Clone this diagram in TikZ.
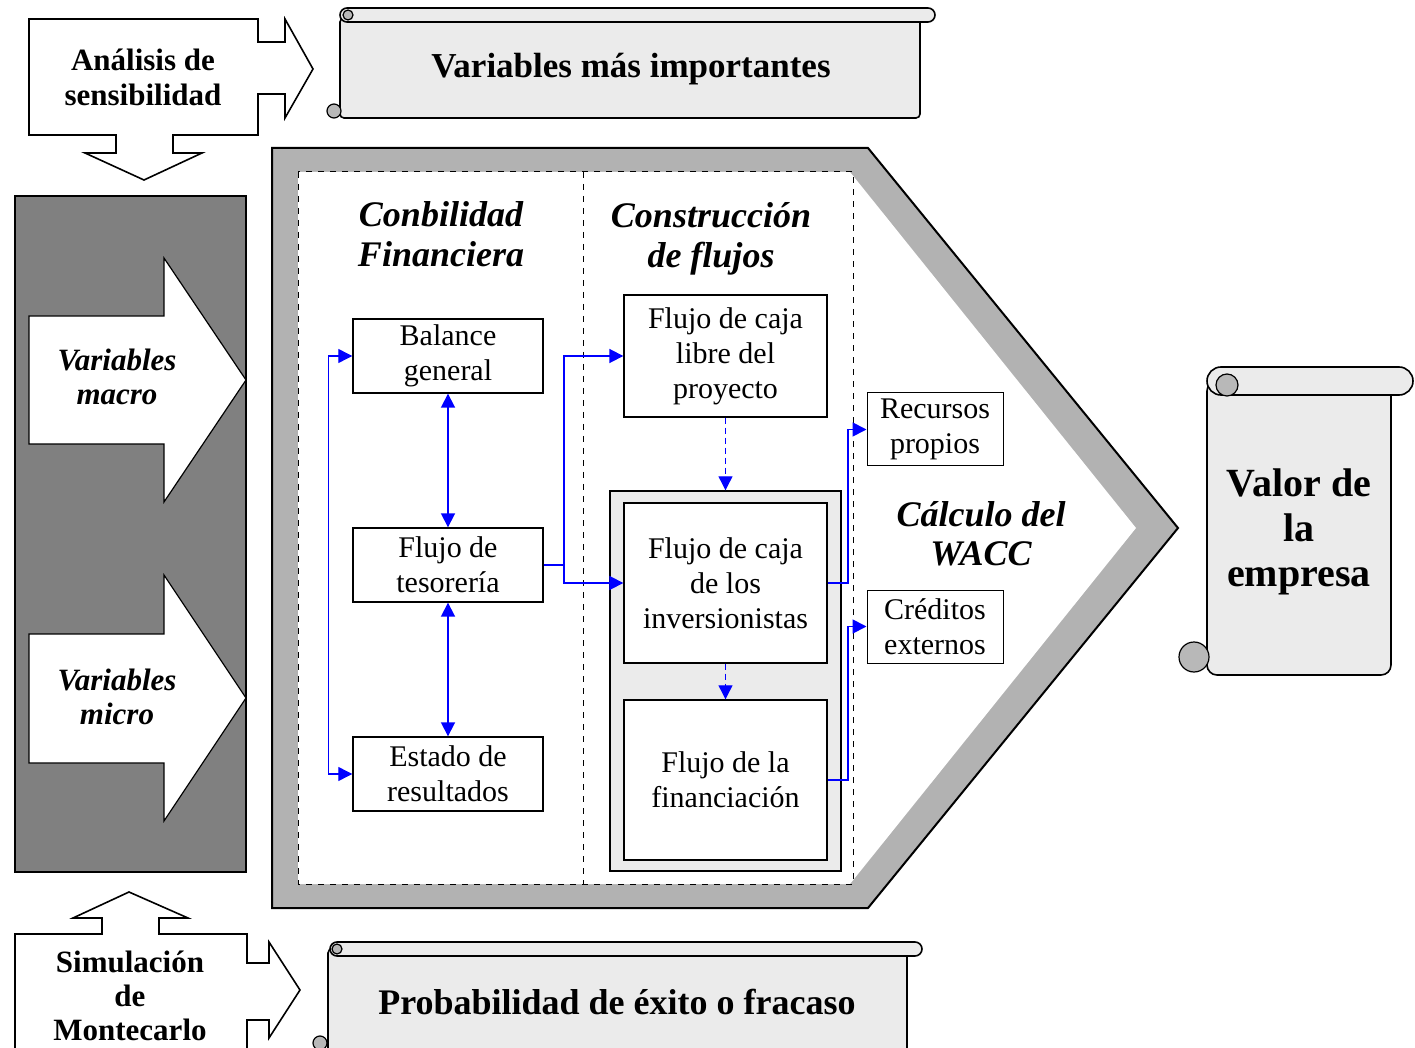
\documentclass[tikz,border=0pt]{standalone}
\usepackage{fontspec}
\setmainfont{Liberation Serif}
\usetikzlibrary{arrows.meta}

\begin{document}
\begin{tikzpicture}[x=0.5pt, y=-0.5pt,
	caja/.style={draw, line width=0.7pt, fill=white, align=center, inner sep=0pt, font=\fontsize{15}{17.5}\selectfont},
	titulo/.style={align=center, font=\fontsize{18}{20}\selectfont\bfseries\itshape},
	negrita/.style={align=center, font=\fontsize{15.5}{17.5}\selectfont\bfseries},
	flecha/.style={blue, line width=0.9pt, -{Triangle[length=7pt,width=7pt]}},
	doble/.style={flecha, {Triangle[length=7pt,width=7pt]}-{Triangle[length=7pt,width=7pt]}},
	rollo/.style={draw, line width=0.8pt, fill=black!8},
	bola/.style={draw, line width=0.6pt, fill=black!28}]
	\useasboundingbox (0,0) rectangle (1415,1048);
	\clip (0,0) rectangle (1415,1048);

	% analisis de sensibilidad
	\draw[line width=0.8pt, fill=white] (29,19) -- (258,19) -- (258,42) -- (285,42) -- (285,19) -- (313,69) -- (285,118) -- (285,94) -- (258,94) -- (258,135) -- (173,135) -- (173,153) -- (202,153) -- (144,180) -- (85,153) -- (116,153) -- (116,135) -- (29,135) -- cycle;
	\node[negrita] (analisis) at (143,77) {Análisis de\\sensibilidad};

	% rollo de arriba
	\draw[rollo, rounded corners=2pt] (340,18) rectangle (920,118);
	\draw[rollo, rounded corners=3.5pt] (340,8) rectangle (935,22);
	\draw[bola] (348,15) circle (5);
	\draw[bola] (334,111) circle (7);
	\node[font=\fontsize{17.5}{20}\selectfont\bfseries] (importantes) at (631,69) {Variables más importantes};

	% panel izquierdo
	\draw[line width=0.8pt, fill=black!50] (15,196) rectangle (246,872);
	\draw[line width=0.6pt, fill=white] (29,316) -- (164,316) -- (164,258) -- (246,380) -- (164,502) -- (164,444) -- (29,444) -- cycle;
	\draw[line width=0.6pt, fill=white] (29,634) -- (164,634) -- (164,575) -- (246,698) -- (164,821) -- (164,763) -- (29,763) -- cycle;
	\node[negrita, font=\fontsize{15.5}{17}\selectfont\bfseries\itshape] (macro) at (117,377) {Variables\\macro};
	\node[negrita, font=\fontsize{15.5}{17}\selectfont\bfseries\itshape] (micro) at (117,697) {Variables\\micro};

	% simulacion de montecarlo
	\draw[line width=0.8pt, fill=white] (15,934) -- (102,934) -- (102,918) -- (73,918) -- (129,892) -- (188,918) -- (159,918) -- (159,934) -- (247,934) -- (247,963) -- (269,963) -- (269,942) -- (300,990) -- (269,1038) -- (269,1020) -- (247,1020) -- (247,1070) -- (15,1070) -- cycle;
	\node[negrita, font=\fontsize{15.5}{17}\selectfont\bfseries] (simulacion) at (130,996) {Simulación\\de\\Montecarlo};

	% rollo de abajo
	\draw[rollo, rounded corners=2pt] (328,949) rectangle (907,1070);
	\draw[rollo, rounded corners=3.5pt] (330,942) rectangle (922,956);
	\draw[bola] (337,949) circle (5);
	\draw[bola] (320,1043) circle (7);
	\node[font=\fontsize{18}{20}\selectfont\bfseries] (probabilidad) at (617,1002) {Probabilidad de éxito o fracaso};

	% pentagono
	\draw[line width=1pt, fill=black!30] (272,148) -- (868,148) -- (1178,528) -- (868,908) -- (272,908) -- cycle;
	\fill[white] (298,172) -- (850,172) -- (1136,528) -- (850,884) -- (298,884) -- cycle;
	\draw[dashed, line width=0.5pt] (298,172) rectangle (853,884);
	\draw[dashed, line width=0.5pt] (583,172) -- (583,884);

	\node[titulo] (contabilidad) at (441,234) {Conbilidad\\Financiera};
	\node[titulo] (construccion) at (711,239) {Construcción\\de flujos};
	\node[titulo, font=\fontsize{18}{19.5}\selectfont\bfseries\itshape] (wacc) at (981,534) {Cálculo del\\WACC};

	\node[caja, minimum width=95pt, minimum height=37pt] (balance) at (448,356) {Balance\\general};
	\node[caja, minimum width=95pt, minimum height=37pt] (tesoreria) at (448,565) {Flujo de\\tesorería};
	\node[caja, minimum width=95pt, minimum height=37pt] (estado) at (448,774) {Estado de\\resultados};

	\node[caja, minimum width=101.5pt, minimum height=61pt] (libre) at (725.5,356) {Flujo de caja\\libre del\\proyecto};
	\node[draw, line width=0.7pt, fill=black!8, minimum width=115.5pt, minimum height=190pt] (grupo) at (725.5,681) {};
	\node[caja, minimum width=101.5pt, minimum height=80pt] (inversionistas) at (725.5,583) {Flujo de caja\\de los\\inversionistas};
	\node[caja, minimum width=101.5pt, minimum height=80pt] (financiacion) at (725.5,780) {Flujo de la\\financiación};

	\node[caja, line width=0.5pt, minimum width=68pt, minimum height=36.5pt] (recursos) at (935,429.5) {Recursos\\propios};
	\node[caja, line width=0.5pt, minimum width=68pt, minimum height=36.5pt] (creditos) at (935,626.5) {Créditos\\externos};

	% conexiones
	\draw[doble] (balance) -- (tesoreria);
	\draw[doble] (tesoreria) -- (estado);
	\draw[doble, line width=0.6pt] (balance.west) -- ++(-24,0) |- (estado.west);
	\draw[flecha] (tesoreria.east) -- ++(20,0) |- (libre.west);
	\draw[flecha] (tesoreria.east) -- ++(20,0) |- (inversionistas.west);
	\draw[flecha, line width=0.6pt, densely dashed] (libre) -- (grupo);
	\draw[flecha, line width=0.6pt, densely dashed] (inversionistas) -- (financiacion);
	\draw[flecha] (inversionistas.east) -- ++(20,0) |- (recursos.west);
	\draw[flecha] (financiacion.east) -- ++(20,0) |- (creditos.west);

	% valor de la empresa
	\draw[rollo, rounded corners=5pt] (1207,381) rectangle (1391,675);
	\draw[rollo, rounded corners=7pt] (1207,367) rectangle (1413,395);
	\draw[bola] (1227,385) circle (11);
	\draw[bola] (1194,657) circle (15);
	\node[align=center, font=\fontsize{20}{22.5}\selectfont\bfseries] (valor) at (1299,532) {Valor de\\la\\empresa};
\end{tikzpicture}
\end{document}
